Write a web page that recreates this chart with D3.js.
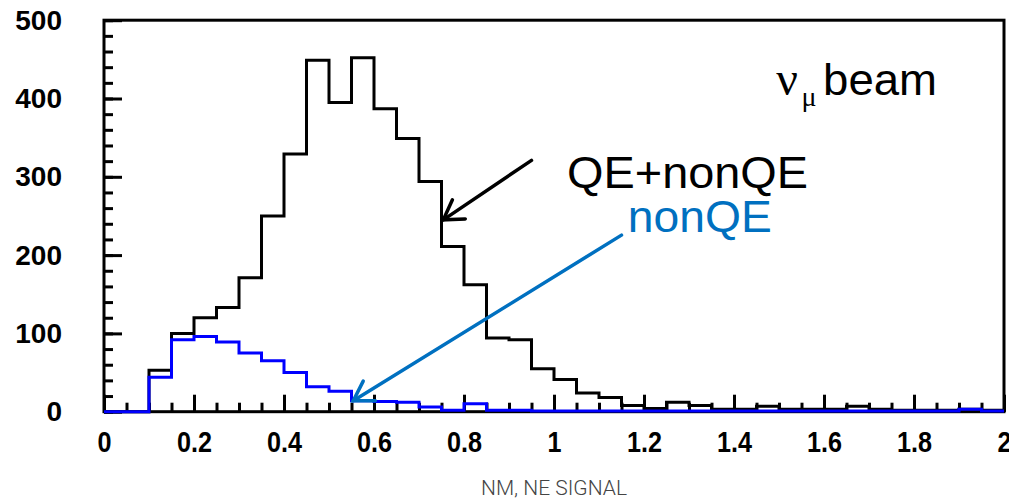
<!DOCTYPE html>
<html>
<head>
<meta charset="utf-8">
<script src="https://cdn.jsdelivr.net/npm/d3@7"></script>
<style>
  html, body { margin: 0; padding: 0; background: #fff; }
  svg { display: block; }
</style>
</head>
<body>
<svg id="chart" width="1009" height="499"></svg>
<script>
// ---- data ----
const binWidth = 0.05;
const binStarts = d3.range(40).map(i => +(i * binWidth).toFixed(2));
const totalCounts = [0, 0, 53, 100, 120, 133, 171, 250, 329, 449,
                     395, 452, 387, 349, 294, 211, 162, 94, 92, 55,
                     41, 24, 18, 8, 4, 12, 8, 3, 3, 7,
                     3, 3, 3, 7, 3, 2, 2, 2, 3, 2];
const nonQECounts = [0, 0, 44, 92, 96, 89, 75, 65, 50, 32,
                     26, 14, 13, 12, 6, 2, 10, 2, 2, 1,
                     1, 1, 1, 1, 1, 1, 1, 1, 1, 1,
                     1, 1, 1, 1, 1, 1, 1, 1, 3, 1];
const xTicks = [0, 0.2, 0.4, 0.6, 0.8, 1, 1.2, 1.4, 1.6, 1.8, 2];
const yTicks = [0, 100, 200, 300, 400, 500];
const xLabel = "NM, NE SIGNAL";
const labelTotal = "QE+nonQE";
const labelNonQE = "nonQE";

// ---- layout ----
const svg = d3.select("#chart");
const x = d3.scaleLinear().domain([0, 2]).range([104, 1004]);
const y = d3.scaleLinear().domain([0, 500]).range([411.7, 20.2]);

// frame
svg.append("rect")
  .attr("x", x(0)).attr("y", y(500))
  .attr("width", x(2) - x(0)).attr("height", y(0) - y(500))
  .attr("fill", "none").attr("stroke", "#000").attr("stroke-width", 3);

// minor ticks
const yAxisMinor = d3.axisLeft(y).tickValues(d3.range(0, 501, 20)).tickSize(-9).tickFormat("");
const xAxisMinor = d3.axisBottom(x).tickValues(d3.range(0, 2.001, 0.05)).tickSize(-9).tickFormat("");
svg.append("g").attr("transform", `translate(${x(0)},0)`).call(yAxisMinor)
  .call(g => g.select(".domain").remove())
  .call(g => g.selectAll("line").attr("stroke-width", 3));
svg.append("g").attr("transform", `translate(0,${y(0)})`).call(xAxisMinor)
  .call(g => g.select(".domain").remove())
  .call(g => g.selectAll("line").attr("stroke-width", 3));

// major axes
const yAxis = d3.axisLeft(y).tickValues(yTicks).tickSize(-18).tickPadding(42).tickFormat(d3.format("d"));
svg.append("g").attr("transform", `translate(${x(0)},0)`).call(yAxis)
  .call(g => g.select(".domain").remove())
  .call(g => g.selectAll("line").attr("stroke-width", 3))
  .call(g => g.selectAll("text")
     .attr("font-family", "'Liberation Sans', Arial, sans-serif")
     .attr("font-weight", "bold").attr("font-size", 28).attr("fill", "#000"));

const xAxis = d3.axisBottom(x).tickValues(xTicks).tickSize(-17).tickPadding(19).tickFormat(d => String(d));
svg.append("g").attr("transform", `translate(0,${y(0)})`).call(xAxis)
  .call(g => g.select(".domain").remove())
  .call(g => g.selectAll("line").attr("stroke-width", 3))
  .call(g => g.selectAll("text")
     .attr("font-family", "'Liberation Sans', Arial, sans-serif")
     .attr("font-weight", "bold").attr("font-size", 30).attr("fill", "#000")
     .attr("transform", "scale(0.84,1)"));

// x title
svg.append("text")
  .attr("x", (x(0) + x(2)) / 2).attr("y", 495)
  .attr("text-anchor", "middle")
  .attr("font-family", "Roboto, 'Open Sans', sans-serif")
  .attr("font-weight", 300).attr("font-size", 21).attr("fill", "#444")
  .text(xLabel);

// histograms
const stepLine = d3.line().x(d => x(d[0])).y(d => y(d[1])).curve(d3.curveStepAfter);
function pts(counts) {
  const p = binStarts.map((b, i) => [b, counts[i]]);
  p.push([2, counts[counts.length - 1]]);
  return p;
}
svg.append("path").attr("d", stepLine(pts(totalCounts)))
  .attr("fill", "none").attr("stroke", "#000").attr("stroke-width", 3);
svg.append("path").attr("d", stepLine(pts(nonQECounts)))
  .attr("fill", "none").attr("stroke", "#0000FF").attr("stroke-width", 3);

// annotations
function arrow(x1, y1, x2, y2, color, w) {
  const X1 = x(x1), Y1 = y(y1), X2 = x(x2), Y2 = y(y2);
  const ang = Math.atan2(Y1 - Y2, X1 - X2);
  const L = 22, spread = 0.55;
  const g = svg.append("g").attr("stroke", color).attr("stroke-width", w)
    .attr("fill", "none").attr("stroke-linecap", "round");
  g.append("line").attr("x1", X1).attr("y1", Y1).attr("x2", X2).attr("y2", Y2);
  g.append("path").attr("d",
    `M${X2 + L * Math.cos(ang + spread)},${Y2 + L * Math.sin(ang + spread)}` +
    `L${X2},${Y2}` +
    `L${X2 + L * Math.cos(ang - spread)},${Y2 + L * Math.sin(ang - spread)}`);
}
arrow(0.950, 321, 0.754, 245, "#000", 3.5);
arrow(1.150, 225.5, 0.554, 14, "#0070C0", 3.5);

svg.append("text")
  .attr("x", x(1.029)).attr("y", y(285.7))
  .attr("font-family", "'Liberation Sans', Arial, sans-serif")
  .attr("font-size", 44).attr("fill", "#000")
  .attr("textLength", 241).attr("lengthAdjust", "spacingAndGlyphs")
  .text(labelTotal);
svg.append("text")
  .attr("x", x(1.164)).attr("y", y(229.5))
  .attr("font-family", "'Liberation Sans', Arial, sans-serif")
  .attr("font-size", 44).attr("fill", "#0070C0")
  .attr("textLength", 144).attr("lengthAdjust", "spacingAndGlyphs")
  .text(labelNonQE);

// ν_μ beam
svg.append("text")
  .attr("x", x(1.494)).attr("y", y(404.5))
  .attr("font-family", "'Liberation Serif', 'Times New Roman', serif")
  .attr("font-size", 48).attr("fill", "#000").text("ν");
svg.append("text")
  .attr("x", x(1.550)).attr("y", y(390))
  .attr("font-family", "'Liberation Serif', 'Times New Roman', serif")
  .attr("font-size", 28).attr("fill", "#000").text("μ");
svg.append("text")
  .attr("x", x(1.598)).attr("y", y(404.5))
  .attr("font-family", "'Liberation Sans', Arial, sans-serif")
  .attr("font-size", 44).attr("fill", "#000")
  .attr("textLength", 114).attr("lengthAdjust", "spacingAndGlyphs")
  .text("beam");
</script>
</body>
</html>
